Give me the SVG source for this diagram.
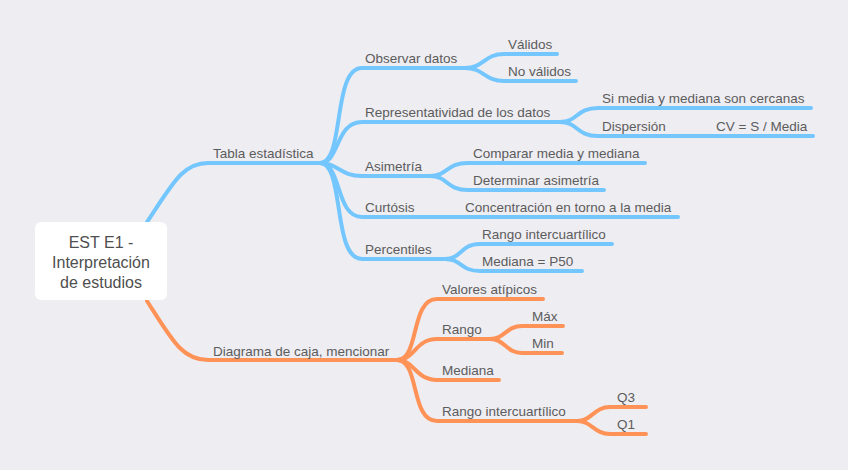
<svg xmlns="http://www.w3.org/2000/svg" width="848" height="470" viewBox="0 0 848 470">
<style>
.b{fill:none;stroke:#74C6FF;stroke-width:4;stroke-linecap:round}
.o{fill:none;stroke:#FF9257;stroke-width:4;stroke-linecap:round}
text{font-family:"Liberation Sans",Arial,sans-serif;font-size:13.5px;fill:#5c5c5c}
.root{font-size:16px;text-anchor:middle;fill:#4f4f4f}
</style>
<rect width="848" height="470" fill="#EEEDF2"/>
<g id="connectors">
<path class="b" d="M147,222 C172,185 182,163 208,163 H320"/>
<path class="b" d="M320,163 C345,163 332,68 362,68 H465"/>
<path class="b" d="M320,163 C340,163 335,122 362,122 H560"/>
<path class="b" d="M320,163 C338,163 340,176 362,176 H430"/>
<path class="b" d="M320,163 C342,163 335,217 362,217 H678"/>
<path class="b" d="M320,163 C345,163 332,259 362,259 H445"/>
<path class="b" d="M465,68 C484,68 484,54 504,54 H557"/>
<path class="b" d="M465,68 C484,68 484,81 504,81 H576"/>
<path class="b" d="M560,122 C578,122 576,108 598,108 H811"/>
<path class="b" d="M560,122 C578,122 576,136 598,136 H813"/>
<path class="b" d="M430,176 C448,176 446,163 468,163 H645"/>
<path class="b" d="M430,176 C448,176 446,190 468,190 H604"/>
<path class="b" d="M445,259 C462,259 460,244 480,244 H612"/>
<path class="b" d="M445,259 C462,259 460,271 480,271 H582"/>
<path class="o" d="M147,301 C172,340 182,360 208,360 H397"/>
<path class="o" d="M397,360 C420,360 410,299 437,299 H543"/>
<path class="o" d="M397,360 C415,360 415,339 437,339 H490"/>
<path class="o" d="M397,360 C415,360 415,380 437,380 H499"/>
<path class="o" d="M397,360 C420,360 410,421 437,421 H577"/>
<path class="o" d="M490,339 C505,339 506,326 522,326 H563"/>
<path class="o" d="M490,339 C505,339 506,353 522,353 H562"/>
<path class="o" d="M577,421 C592,421 594,407 610,407 H646"/>
<path class="o" d="M577,421 C592,421 594,434 610,434 H646"/>
</g>
<g id="root">
<rect x="35" y="222" width="132" height="78" rx="6" fill="#fff"/>
<text class="root" x="101" y="248">EST E1 -</text>
<text class="root" x="101" y="268">Interpretación</text>
<text class="root" x="101" y="288">de estudios</text>
</g>
<g id="tabla"><text x="213" y="158">Tabla estadística</text></g>
<g id="observar"><text x="365" y="63">Observar datos</text></g>
<g id="validos"><text x="508" y="49">Válidos</text></g>
<g id="novalidos"><text x="508" y="76">No válidos</text></g>
<g id="representatividad"><text x="365" y="117">Representatividad de los datos</text></g>
<g id="simedia"><text x="602" y="103">Si media y mediana son cercanas</text></g>
<g id="dispersion"><text x="602" y="131">Dispersión</text></g>
<g id="cv"><text x="716" y="131">CV = S / Media</text></g>
<g id="asimetria"><text x="365" y="171">Asimetría</text></g>
<g id="comparar"><text x="473" y="158">Comparar media y mediana</text></g>
<g id="determinar"><text x="473" y="185">Determinar asimetría</text></g>
<g id="curtosis"><text x="365" y="212">Curtósis</text></g>
<g id="concentracion"><text x="465" y="212">Concentración en torno a la media</text></g>
<g id="percentiles"><text x="365" y="254">Percentiles</text></g>
<g id="rangoiq1"><text x="482" y="239">Rango intercuartílico</text></g>
<g id="mediana50"><text x="482" y="266">Mediana = P50</text></g>
<g id="diagrama"><text x="213" y="356">Diagrama de caja, mencionar</text></g>
<g id="valores"><text x="442" y="294">Valores atípicos</text></g>
<g id="rango"><text x="442" y="334">Rango</text></g>
<g id="max"><text x="532" y="321">Máx</text></g>
<g id="min"><text x="532" y="348">Min</text></g>
<g id="mediana"><text x="442" y="375">Mediana</text></g>
<g id="rangoiq2"><text x="442" y="416">Rango intercuartílico</text></g>
<g id="q3"><text x="617" y="402">Q3</text></g>
<g id="q1"><text x="617" y="429">Q1</text></g>
</svg>
